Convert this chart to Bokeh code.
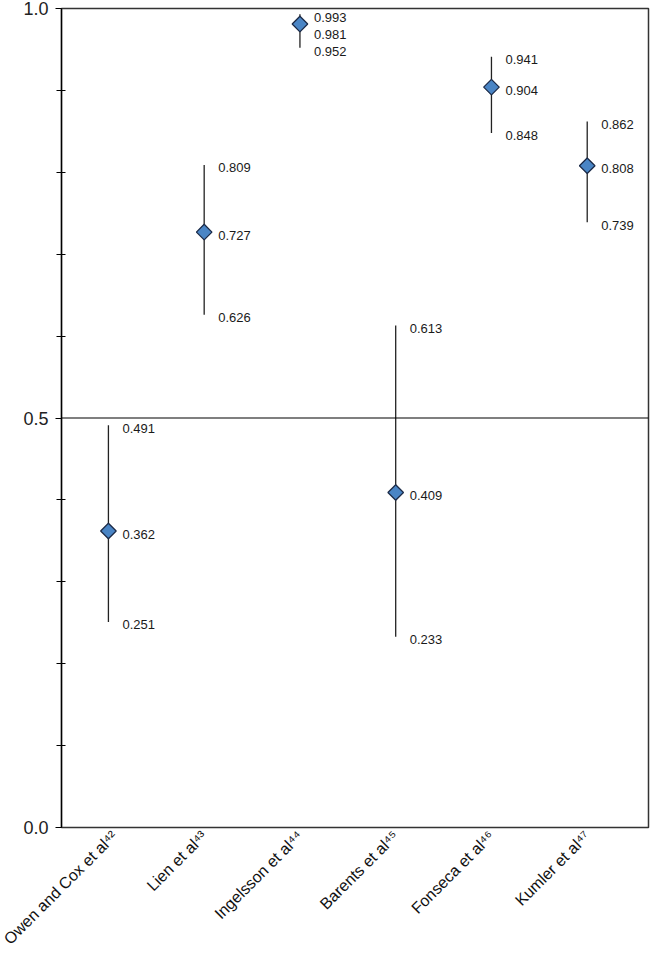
import math
from bokeh.plotting import figure
from bokeh.models import ColumnDataSource, FixedTicker, Range1d, Span
from bokeh.core.properties import value
from bokeh.embed import file_html
from bokeh.resources import INLINE

studies = ["Owen and Cox et al\u2074\u00b2", "Lien et al\u2074\u00b3", "Ingelsson et al\u2074\u2074",
           "Barents et al\u2074\u2075", "Fonseca et al\u2074\u2076", "Kumler et al\u2074\u2077"]
estimate = [0.362, 0.727, 0.981, 0.409, 0.904, 0.808]
lower = [0.251, 0.626, 0.952, 0.233, 0.848, 0.739]
upper = [0.491, 0.809, 0.993, 0.613, 0.941, 0.862]

y_ticks_major = [0.0, 0.5, 1.0]
y_ticks_minor = [0.1, 0.2, 0.3, 0.4, 0.6, 0.7, 0.8, 0.9]

W, H = 650, 957
TOP, BOTTOM = 8, 130
p = figure(width=W, height=H, output_backend="svg", toolbar_location=None,
           x_range=Range1d(-0.49, 5.64), y_range=Range1d(0, 1.0),
           min_border_left=61, min_border_right=2, min_border_top=TOP, min_border_bottom=BOTTOM)
p.xgrid.visible = False
p.ygrid.visible = False
p.outline_line_color = "#333333"
p.outline_line_width = 1.5
p.background_fill_color = "white"
p.border_fill_color = "white"

xs = list(range(len(studies)))

# reference line
p.add_layout(Span(location=0.5, dimension="width", line_color="black", line_width=1.2))

# whiskers
p.segment(x0=xs, y0=lower, x1=xs, y1=upper, line_color="#222222", line_width=1.3)

# markers
p.scatter(x=xs, y=estimate, marker="square", angle=math.pi / 4, size=11,
          fill_color="#4A85C5", line_color="#1C2B48", line_width=1.3)

# value labels with simple de-overlap
frame_h = H - TOP - BOTTOM
gap = 17.0 / frame_h
lx, ly, lt = [], [], []
for i in xs:
    u = upper[i]
    m = min(estimate[i], u - gap)
    l = min(lower[i], m - gap)
    for v, pos in ((upper[i], u), (estimate[i], m), (lower[i], l)):
        lx.append(i)
        ly.append(pos)
        lt.append(f"{v:.3f}")
src = ColumnDataSource(dict(x=lx, y=ly, t=lt))
p.text(x="x", y="y", text="t", source=src, x_offset=14, y_offset=3,
       text_font=value("Liberation Sans"), text_font_size="13px",
       text_color="#1a1a1a", text_baseline="middle", text_align="left")

# y axis
ya = p.yaxis[0]
ya.ticker = FixedTicker(ticks=y_ticks_major, minor_ticks=y_ticks_minor)
ya.major_label_overrides = {0.0: "0.0", 0.5: "0.5", 1.0: "1.0"}
ya.major_tick_in = 0
ya.major_tick_out = 6
ya.minor_tick_in = 4
ya.minor_tick_out = 5
ya.major_tick_line_color = "black"
ya.minor_tick_line_color = "black"
ya.axis_line_color = "black"
ya.axis_line_width = 1.3
ya.major_label_text_font = "Liberation Sans"
ya.major_label_text_font_size = "18px"
ya.major_label_text_color = "#222222"
ya.major_label_standoff = 7

# x axis
xa = p.xaxis[0]
xa.ticker = FixedTicker(ticks=xs)
xa.major_label_overrides = {i: s for i, s in enumerate(studies)}
xa.major_label_orientation = math.pi / 4
xa.major_tick_in = 0
xa.major_tick_out = 0
xa.minor_tick_in = 0
xa.minor_tick_out = 0
xa.axis_line_color = None
xa.major_label_text_font = "Liberation Sans"
xa.major_label_text_font_size = "16px"
xa.major_label_text_color = "#111111"
xa.major_label_standoff = 6

open("out.html", "w").write(file_html(p, INLINE))
